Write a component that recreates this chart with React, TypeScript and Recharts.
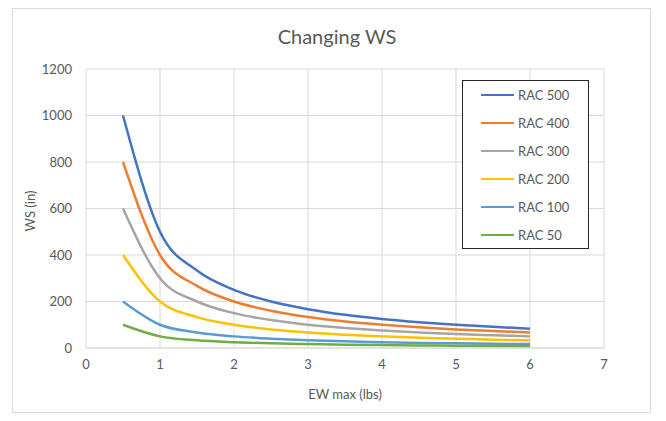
import { CartesianGrid, Line, LineChart, XAxis, YAxis } from "recharts";

// EW max (lbs) sample points
const ewMax = [0.5, 1, 1.5, 2, 2.5, 3, 3.5, 4, 4.5, 5, 5.5, 6];

// WS (in) for each RAC value
const rac500 = [1000, 500, 333, 250, 200, 167, 143, 125, 111, 100, 91, 83];
const rac400 = [800, 400, 267, 200, 160, 133, 114, 100, 89, 80, 73, 67];
const rac300 = [600, 300, 200, 150, 120, 100, 86, 75, 67, 60, 55, 50];
const rac200 = [400, 200, 133, 100, 80, 67, 57, 50, 44, 40, 36, 33];
const rac100 = [200, 100, 67, 50, 40, 33, 29, 25, 22, 20, 18, 17];
const rac50 = [100, 50, 33, 25, 20, 17, 14, 12.5, 11, 10, 9, 8];

const xTicks = [0, 1, 2, 3, 4, 5, 6, 7];
const yTicks = [0, 200, 400, 600, 800, 1000, 1200];

const series = [
  { key: "rac500", name: "RAC 500", values: rac500, color: "#4472C4" },
  { key: "rac400", name: "RAC 400", values: rac400, color: "#ED7D31" },
  { key: "rac300", name: "RAC 300", values: rac300, color: "#A5A5A5" },
  { key: "rac200", name: "RAC 200", values: rac200, color: "#FFC000" },
  { key: "rac100", name: "RAC 100", values: rac100, color: "#5B9BD5" },
  { key: "rac50", name: "RAC 50", values: rac50, color: "#70AD47" },
];

const rows = ewMax.map((ew, i) => {
  const row: Record<string, number> = { ew };
  series.forEach((s) => {
    row[s.key] = s.values[i];
  });
  return row;
});

const font = "Lato, 'Open Sans', sans-serif";
const textColor = "#595959";

// boxed legend in the upper right of the plot
function LegendBox() {
  return (
    <div
      style={{
        position: "absolute",
        left: 462,
        top: 80,
        width: 127,
        height: 169,
        border: "1px solid #262626",
        background: "#fff",
        boxSizing: "border-box",
        paddingTop: 0,
        fontSize: 13,
        color: textColor,
      }}
    >
      {series.map((s) => (
        <div key={s.key} style={{ display: "flex", alignItems: "center", height: 28 }}>
          <span
            style={{
              display: "inline-block",
              marginLeft: 18,
              width: 33,
              height: 2.5,
              background: s.color,
            }}
          />
          <span style={{ marginLeft: 4 }}>{s.name}</span>
        </div>
      ))}
    </div>
  );
}

export default function App() {
  return (
    <div
      style={{
        position: "absolute",
        left: 0,
        top: 0,
        width: 666,
        height: 421,
        background: "#fff",
        fontFamily: font,
      }}
    >
      <div
        style={{
          position: "absolute",
          left: 12,
          top: 8,
          width: 639,
          height: 405,
          border: "1px solid #d9d9d9",
          boxSizing: "border-box",
        }}
      />
      <div
        style={{
          position: "absolute",
          left: 0,
          top: 24,
          width: 674,
          textAlign: "center",
          fontSize: 20,
          color: textColor,
        }}
      >
        Changing WS
      </div>
      <div
        style={{
          position: "absolute",
          left: 30,
          top: 211,
          transform: "translate(-50%, -50%) rotate(-90deg)",
          fontSize: 13,
          color: textColor,
          whiteSpace: "nowrap",
        }}
      >
        WS (in)
      </div>
      <div
        style={{
          position: "absolute",
          left: 86,
          width: 518,
          top: 386,
          textAlign: "center",
          fontSize: 13,
          color: textColor,
        }}
      >
        EW max (lbs)
      </div>
      <div style={{ position: "absolute", left: 0, top: 0 }}>
        <LineChart
          width={666}
          height={421}
          data={rows}
          margin={{ top: 69, right: 62, bottom: 0, left: 20 }}
        >
          <CartesianGrid stroke="#d9d9d9" strokeWidth={1} />
          <XAxis
            dataKey="ew"
            type="number"
            domain={[0, 7]}
            ticks={xTicks}
            interval={0}
            height={73}
            axisLine={{ stroke: "#d9d9d9" }}
            tickLine={false}
            tickSize={0}
            tickMargin={12}
            tick={{ fill: textColor, fontSize: 13, fontFamily: font }}
          />
          <YAxis
            type="number"
            domain={[0, 1200]}
            ticks={yTicks}
            interval={0}
            width={66}
            axisLine={false}
            tickLine={false}
            tickSize={0}
            tickMargin={14}
            tick={{ fill: textColor, fontSize: 13, fontFamily: font }}
          />
          {series.map((s) => (
            <Line
              key={s.key}
              dataKey={s.key}
              name={s.name}
              type="monotone"
              stroke={s.color}
              strokeWidth={2.5}
              dot={false}
              isAnimationActive={false}
            />
          ))}
        </LineChart>
      </div>
      <LegendBox />
    </div>
  );
}
